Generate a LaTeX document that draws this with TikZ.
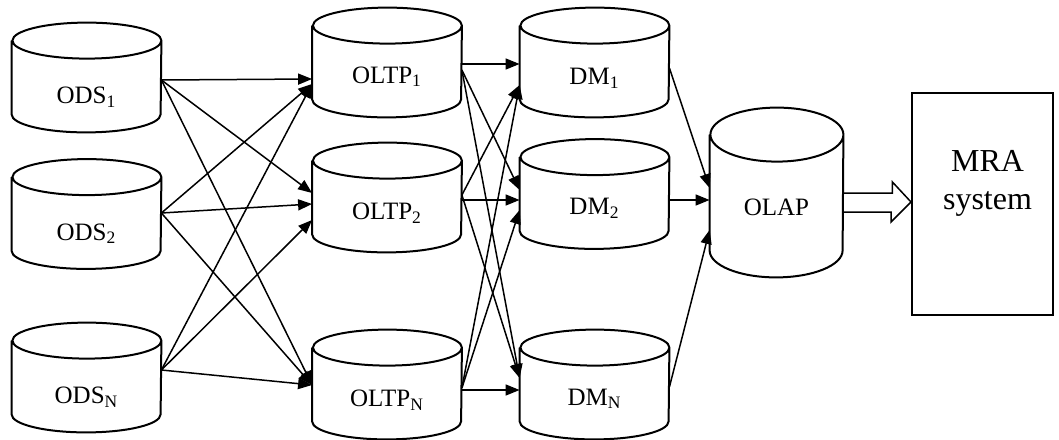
\documentclass[tikz,border=0pt]{standalone}
\usepackage{fontspec}
\setmainfont{Liberation Serif}
\usetikzlibrary{arrows.meta,calc}

\tikzset{
  drum/.style={rectangle, minimum width=74.5pt, minimum height=54.5pt, inner sep=0pt,
    text height=20.5pt, text depth=0pt, font=\fontsize{12.5}{14}\selectfont},
  rim/.style={draw=black, line width=1pt},
  link/.style={-{Triangle[length=7pt,width=5.5pt]}, line width=0.75pt},
  sysbox/.style={draw=black, line width=1pt, minimum width=70.5pt, minimum height=111pt},
}

\begin{document}
\begin{tikzpicture}[x=0.5pt,y=-0.5pt]
\useasboundingbox (0,0) rectangle (1059,439);

% sources
\node[drum, text height=26pt](ods1) at (86.5,77.5) {ODS\textsubscript{1}};
\node[drum, text height=26pt](ods2) at (86.5,214) {ODS\textsubscript{2}};
\node[drum, text height=26pt](odsn) at (86.5,377.5) {ODS\textsubscript{N}};

% oltp
\node[drum](oltp1) at (387,62.5) {OLTP\textsubscript{1}};
\node[drum, text height=22pt](oltp2) at (387,197.5) {OLTP\textsubscript{2}};
\node[drum, text height=22pt](oltpn) at (387,384.5) {OLTP\textsubscript{N}};

% data marts
\node[drum, text height=22pt](dm1) at (594.5,62.5) {DM\textsubscript{1}};
\node[drum](dm2) at (594.5,194) {DM\textsubscript{2}};
\node[drum](dmn) at (594.5,384.5) {DM\textsubscript{N}};

\node[drum, minimum width=66.5pt, minimum height=84.5pt, text height=23pt](olap) at (776.5,192.5) {OLAP};
\node[sysbox](mra) at (982.5,204) {};
\node[font=\fontsize{16}{19}\selectfont, align=center](mratext) at ($(mra.center)+(5,-21)$) {MRA\\system};

% cylinder outlines
\foreach \n in {ods1,ods2,odsn,oltp1,oltp2,oltpn,dm1,dm2,dmn}
  \draw[rim] ([yshift=-9pt]\n.north west) -- ([yshift=9pt]\n.south west)
    arc[start angle=180, end angle=360, x radius=37.25pt, y radius=9pt]
    -- ([yshift=-9pt]\n.north east)
    arc[start angle=0, end angle=360, x radius=37.25pt, y radius=9pt];
\draw[rim] ([yshift=-13.5pt]olap.north west) -- ([yshift=13.5pt]olap.south west)
  arc[start angle=180, end angle=360, x radius=33.25pt, y radius=13.5pt]
  -- ([yshift=-13.5pt]olap.north east)
  arc[start angle=0, end angle=360, x radius=33.25pt, y radius=13.5pt];

% ods -> oltp
\draw[link] ($(ods1.east)+(0,2.5)$) -- ($(oltp1.west)+(0,16.5)$);
\draw[link] ($(ods1.east)+(0,2.5)$) -- ($(oltp2.west)+(0,-4.5)$);
\draw[link] ($(ods1.east)+(0,2.5)$) -- ($(oltpn.west)+(0,0.5)$);
\draw[link] ($(ods2.east)+(0,-1)$) -- ($(oltp1.west)+(0,21.5)$);
\draw[link] ($(ods2.east)+(0,-1)$) -- ($(oltp2.west)+(0,6.5)$);
\draw[link] ($(ods2.east)+(0,-1)$) -- ($(oltpn.west)+(0,0.5)$);
\draw[link] ($(odsn.east)+(0,-7.5)$) -- ($(oltp1.west)+(0,21.5)$);
\draw[link] ($(odsn.east)+(0,-7.5)$) -- ($(oltp2.west)+(0,22.5)$);
\draw[link] ($(odsn.east)+(0,-7.5)$) -- ($(oltpn.west)+(0,0.5)$);

% oltp -> dm
\draw[link] ($(oltp1.east)+(0,1.5)$) -- ($(dm1.west)+(0,1.5)$);
\draw[link] ($(oltp1.east)+(0,7.5)$) -- ($(dm2.west)+(0,-4)$);
\draw[link] ($(oltp1.east)+(0,7.5)$) -- ($(dmn.west)+(0,-6.5)$);
\draw[link] ($(oltp2.east)+(0,-2.5)$) -- ($(dm1.west)+(0,22.5)$);
\draw[link] ($(oltp2.east)+(0,2.5)$) -- ($(dm2.west)+(0,6)$);
\draw[link] ($(oltp2.east)+(0,-2.5)$) -- ($(dmn.west)+(0,-6.5)$);
\draw[link] ($(oltpn.east)+(0,3.5)$) -- ($(dm1.west)+(0,22.5)$);
\draw[link] ($(oltpn.east)+(0,3.5)$) -- ($(dm2.west)+(0,16)$);
\draw[link] ($(oltpn.east)+(0,5.5)$) -- ($(dmn.west)+(0,5.5)$);

% dm -> olap
\draw[link] ($(dm1.east)+(0,5.5)$) -- ($(olap.west)+(0,-4.5)$);
\draw[link] ($(dm2.east)+(0,6)$) -- ($(olap.west)+(0,7.5)$);
\draw[link] ($(dmn.east)+(0,2.5)$) -- ($(olap.west)+(0,37.5)$);

% olap => mra
\draw[line width=0.75pt] ($(olap.east)+(0,0.5)$) -- ++(49,0) -- ++(0,-11) -- ($(mra.west)+(0,-2)$)
  -- ($(mra.west)+(-20,18)$) -- ++(0,-10) -- ($(olap.east)+(0,19.5)$);
\end{tikzpicture}
\end{document}
